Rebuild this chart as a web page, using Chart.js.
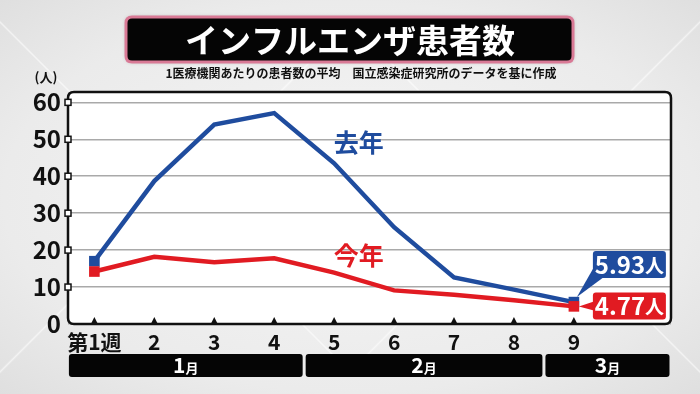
<html>
<head>
  <meta charset="utf-8">
  <title>インフルエンザ患者数</title>
  <script src="https://cdn.jsdelivr.net/npm/chart.js"></script>
  <style>
    html, body {
      margin: 0;
      padding: 0;
      width: 700px;
      height: 394px;
      overflow: hidden;
    }
    body {
      background:
        linear-gradient(45deg, transparent 49.7%, rgba(255,255,255,0.55) 50%, transparent 50.3%) 0 0 / 350px 394px,
        linear-gradient(-45deg, transparent 49.7%, rgba(255,255,255,0.55) 50%, transparent 50.3%) 0 0 / 350px 394px,
        radial-gradient(ellipse at center, #f6f6f6 0%, #ebebeb 70%, #dfdfdf 100%);
    }
    #wrap {
      position: absolute;
      left: 0;
      top: 0;
      width: 700px;
      height: 394px;
    }
  </style>
</head>
<body>
<div id="wrap"><canvas id="chart"></canvas></div>

<script>
const FONT = "'Noto Sans CJK JP', 'Noto Sans', sans-serif";

const weeks = [1, 2, 3, 4, 5, 6, 7, 8, 9];
const weekLabels = ['第1週', '2', '3', '4', '5', '6', '7', '8', '9'];
const lastYear = [17.0, 38.7, 54.0, 57.1, 43.5, 26.2, 12.6, 9.3, 5.93];
const thisYear = [14.2, 18.2, 16.7, 17.8, 13.9, 9.1, 7.9, 6.4, 4.77];
const yTicks = [0, 10, 20, 30, 40, 50, 60];
const months = ['1', '2', '3'];
const monthFrom = [0.55, 4.5, 8.5];
const monthTo = [4.5, 8.5, 10.62];

const BLUE = '#1f4c9e';
const RED = '#e11b22';

function roundRect(ctx, x, y, w, h, r) {
  ctx.beginPath();
  ctx.moveTo(x + r, y);
  ctx.lineTo(x + w - r, y);
  ctx.quadraticCurveTo(x + w, y, x + w, y + r);
  ctx.lineTo(x + w, y + h - r);
  ctx.quadraticCurveTo(x + w, y + h, x + w - r, y + h);
  ctx.lineTo(x + r, y + h);
  ctx.quadraticCurveTo(x, y + h, x, y + h - r);
  ctx.lineTo(x, y + r);
  ctx.quadraticCurveTo(x, y, x + r, y);
  ctx.closePath();
}

// title, subtitle, white plot panel
const backdrop = {
  id: 'backdrop',
  beforeDraw(chart) {
    const ctx = chart.ctx;
    const a = chart.chartArea;
    ctx.save();
    // title box
    ctx.shadowColor = 'rgba(0,0,0,0.25)';
    ctx.shadowBlur = 4;
    roundRect(ctx, 126, 17, 447, 45, 6);
    ctx.fillStyle = '#050505';
    ctx.fill();
    ctx.shadowBlur = 0;
    ctx.lineWidth = 3;
    ctx.strokeStyle = '#d97a96';
    ctx.stroke();
    ctx.fillStyle = '#fff';
    ctx.font = '700 33px ' + FONT;
    ctx.textAlign = 'center';
    ctx.textBaseline = 'middle';
    ctx.fillText('インフルエンザ患者数', 350, 40);

    ctx.fillStyle = '#111';
    ctx.font = '700 12px ' + FONT;
    ctx.fillText('1医療機関あたりの患者数の平均　国立感染症研究所のデータを基に作成', 361, 73);
    ctx.font = '700 13px ' + FONT;
    ctx.fillText('(人)', 46, 77);

    // plot panel
    roundRect(ctx, a.left, a.top, a.right - a.left, a.bottom - a.top, 6);
    ctx.fillStyle = '#fff';
    ctx.fill();
    ctx.restore();
  },
  afterDatasetsDraw(chart) {
    const ctx = chart.ctx;
    const a = chart.chartArea;
    const xs = chart.scales.x;
    const ys = chart.scales.y;
    ctx.save();
    // frame
    roundRect(ctx, a.left, a.top, a.right - a.left, a.bottom - a.top, 6);
    ctx.lineWidth = 2.5;
    ctx.strokeStyle = '#111';
    ctx.stroke();

    // square markers on y axis
    yTicks.forEach(v => {
      if (v === 0) return;
      const y = ys.getPixelForValue(v);
      ctx.fillStyle = '#fff';
      ctx.fillRect(a.left - 3, y - 3, 6, 6);
      ctx.lineWidth = 1.5;
      ctx.strokeStyle = '#111';
      ctx.strokeRect(a.left - 3, y - 3, 6, 6);
    });

    // triangles on x axis
    ctx.fillStyle = '#111';
    weeks.forEach(w => {
      const x = xs.getPixelForValue(w);
      ctx.beginPath();
      ctx.moveTo(x - 3.5, a.bottom);
      ctx.lineTo(x + 3.5, a.bottom);
      ctx.lineTo(x, a.bottom - 7);
      ctx.closePath();
      ctx.fill();
    });

    // series names
    ctx.textAlign = 'center';
    ctx.textBaseline = 'middle';
    ctx.font = '700 25px ' + FONT;
    ctx.fillStyle = BLUE;
    ctx.fillText('去年', xs.getPixelForValue(5.41), ys.getPixelForValue(49.2));
    ctx.fillStyle = RED;
    ctx.fillText('今年', xs.getPixelForValue(5.41), ys.getPixelForValue(18.6));

    // callouts for the last week
    const last = weeks.length - 1;
    const pb = chart.getDatasetMeta(1).data[last];
    const pr = chart.getDatasetMeta(0).data[last];

    function valueText(x, y, num) {
      ctx.textAlign = 'left';
      ctx.textBaseline = 'middle';
      ctx.fillStyle = '#fff';
      ctx.font = '700 24px ' + FONT;
      const w1 = ctx.measureText(num).width;
      ctx.font = '700 19px ' + FONT;
      const w2 = ctx.measureText('人').width;
      const sx = x - (w1 + w2) / 2;
      ctx.font = '700 24px ' + FONT;
      ctx.fillText(num, sx, y);
      ctx.font = '700 19px ' + FONT;
      ctx.fillText('人', sx + w1, y + 1);
    }

    // blue box
    const bx = pb.x + 19, by = pb.y - 51;
    ctx.fillStyle = BLUE;
    ctx.beginPath();
    ctx.moveTo(bx, by + 18);
    ctx.lineTo(bx + 11, by + 26);
    ctx.lineTo(pb.x + 3, pb.y - 5);
    ctx.closePath();
    ctx.fill();
    roundRect(ctx, bx, by, 73, 27, 3);
    ctx.fill();
    valueText(bx + 36.5, by + 13.5, lastYear[last].toFixed(2));

    // red box
    const rx = pr.x + 19, ry = pr.y - 14;
    ctx.fillStyle = RED;
    ctx.beginPath();
    ctx.moveTo(rx + 1, ry + 9);
    ctx.lineTo(rx + 1, ry + 18);
    ctx.lineTo(pr.x + 5, pr.y);
    ctx.closePath();
    ctx.fill();
    roundRect(ctx, rx, ry, 73, 27, 3);
    ctx.fill();
    valueText(rx + 36.5, ry + 13.5, thisYear[last].toFixed(2));

    // month bars
    months.forEach((m, i) => {
      const x1 = Math.max(xs.getPixelForValue(monthFrom[i]) + 1.5, a.left - 1);
      const x2 = Math.min(xs.getPixelForValue(monthTo[i]) - 1.5, a.right + 1);
      ctx.fillStyle = '#050505';
      roundRect(ctx, x1, 354, x2 - x1, 23, 3);
      ctx.fill();
      ctx.fillStyle = '#fff';
      ctx.textBaseline = 'alphabetic';
      ctx.textAlign = 'left';
      ctx.font = '700 21px ' + FONT;
      const w1 = ctx.measureText(m).width;
      ctx.font = '700 13px ' + FONT;
      const w2 = ctx.measureText('月').width;
      const cx = (x1 + x2) / 2 - (w1 + w2) / 2;
      ctx.font = '700 21px ' + FONT;
      ctx.fillText(m, cx, 373);
      ctx.font = '700 13px ' + FONT;
      ctx.fillText('月', cx + w1, 373);
    });
    ctx.restore();
  }
};

new Chart(document.getElementById('chart'), {
  type: 'line',
  data: {
    datasets: [{
      label: '今年',
      data: weeks.map((w, i) => ({ x: w, y: thisYear[i] })),
      borderColor: RED,
      backgroundColor: RED,
      borderWidth: 4.5,
      tension: 0,
      pointStyle: 'rect',
      pointRadius: ctx => (ctx.dataIndex === 0 || ctx.dataIndex === weeks.length - 1) ? 7.5 : 0,
      pointBorderWidth: 0
    }, {
      label: '去年',
      data: weeks.map((w, i) => ({ x: w, y: lastYear[i] })),
      borderColor: BLUE,
      backgroundColor: BLUE,
      borderWidth: 4.5,
      tension: 0,
      pointStyle: 'rect',
      pointRadius: ctx => (ctx.dataIndex === 0 || ctx.dataIndex === weeks.length - 1) ? 7.5 : 0,
      pointBorderWidth: 0
    }]
  },
  options: {
    responsive: true,
    maintainAspectRatio: false,
    animation: false,
    layout: { padding: { top: 92, right: 29, bottom: 0, left: 0 } },
    plugins: {
      legend: { display: false },
      tooltip: { enabled: false }
    },
    scales: {
      x: {
        type: 'linear',
        min: 0.56,
        max: 10.62,
        afterBuildTicks: s => { s.ticks = weeks.map(v => ({ value: v })); },
        afterFit: s => { s.height = 70; },
        grid: { display: false },
        border: { display: false },
        ticks: {
          padding: -3,
          color: '#111',
          font: { family: FONT, size: 21, weight: '700' },
          callback: v => weekLabels[weeks.indexOf(v)]
        }
      },
      y: {
        min: 0,
        max: 62.8,
        afterBuildTicks: s => { s.ticks = yTicks.map(v => ({ value: v })); },
        afterFit: s => { s.width = 68; },
        grid: { color: '#a9a9a9', lineWidth: 1.5, drawTicks: false },
        border: { display: false },
        ticks: {
          padding: 7,
          color: '#111',
          font: { family: FONT, size: 24, weight: '700' }
        }
      }
    }
  },
  plugins: [backdrop]
});
</script>
</body>
</html>
